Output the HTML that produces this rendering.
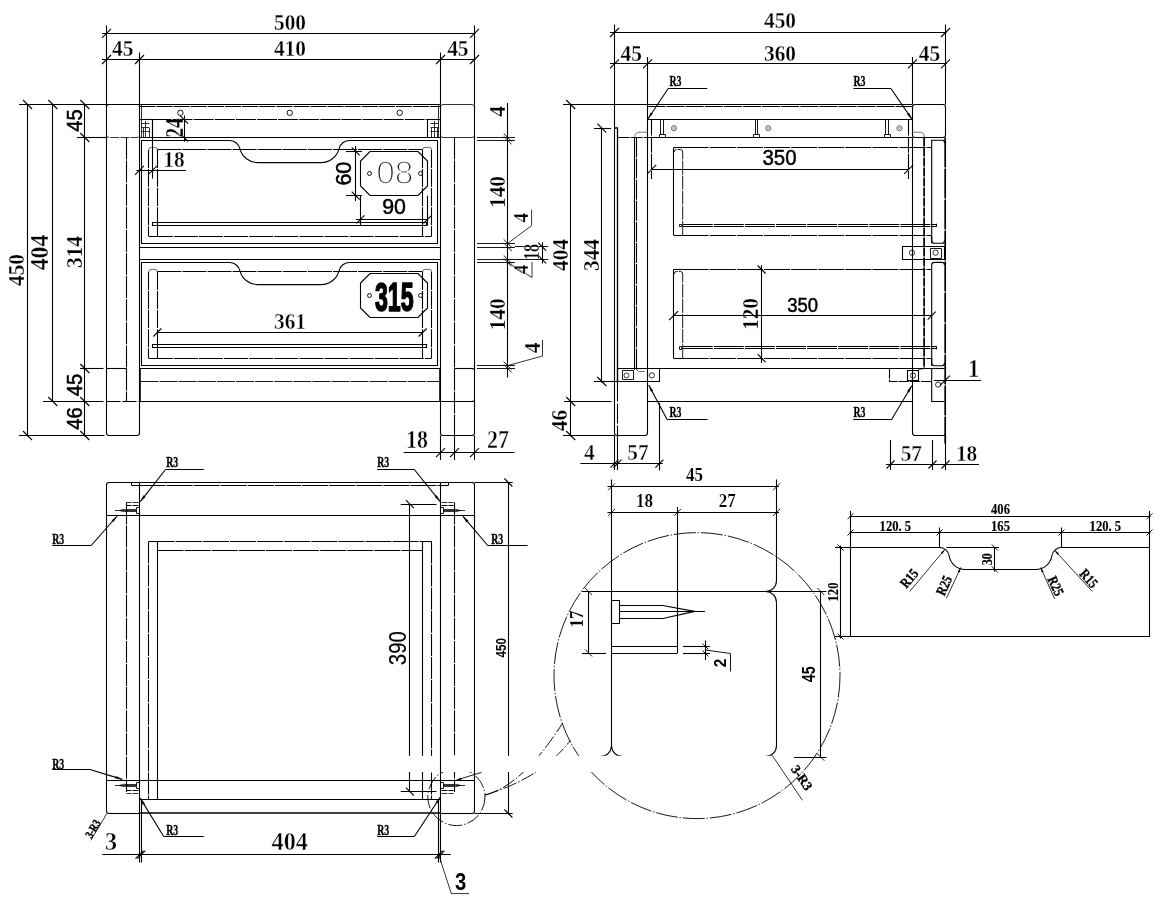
<!DOCTYPE html>
<html lang="en"><head><meta charset="utf-8"><title>Drawing</title>
<style>
html,body{margin:0;padding:0;background:#fff}
body{width:1173px;height:897px;overflow:hidden}
svg{display:block;will-change:transform}
line,path,circle{stroke:#000;stroke-width:1.1;fill:none}
text{font-family:"Liberation Serif",serif;fill:#000}
text.d{font-weight:bold;stroke:#fff;stroke-width:.3px}
text.r{font-weight:bold;stroke:#000;stroke-width:.35px}
text.b{font-weight:bold;stroke:#fff;stroke-width:.15px}
text.bb{font-weight:bold;stroke:#000;stroke-width:.15px}
text.s{font-family:"Liberation Sans",sans-serif}
text.k{font-family:"Liberation Sans",sans-serif;font-weight:bold;stroke:#000;stroke-width:1.6px;stroke-linejoin:round}
text.n{font-weight:bold;stroke:#fff;stroke-width:.45px}
text.o{font-family:"Liberation Sans",sans-serif;fill:#222;stroke:#fff;stroke-width:1.6px}
text.a{font-family:"Liberation Sans",sans-serif;stroke:#000;stroke-width:.5px}
text.ab{font-family:"Liberation Sans",sans-serif;font-weight:bold}
.ah{fill:#000;stroke:none}
</style></head>
<body>
<svg width="1173" height="897" viewBox="0 0 1173 897">
<rect x="0" y="0" width="1173" height="897" fill="#fff" stroke="none"/>
<line x1="102" y1="33.5" x2="475.5" y2="33.5"/>
<line x1="106.5" y1="25.5" x2="106.5" y2="104.5"/>
<line x1="474.5" y1="25.5" x2="474.5" y2="104.5"/>
<line x1="102" y1="37.9" x2="111" y2="28.9" style="stroke-width:1.1"/>
<line x1="470" y1="37.9" x2="479" y2="28.9" style="stroke-width:1.1"/>
<line x1="102" y1="59.5" x2="475.5" y2="59.5"/>
<line x1="102" y1="64" x2="111" y2="55" style="stroke-width:1.1"/>
<line x1="135" y1="64" x2="144" y2="55" style="stroke-width:1.1"/>
<line x1="436" y1="64" x2="445" y2="55" style="stroke-width:1.1"/>
<line x1="470" y1="64" x2="479" y2="55" style="stroke-width:1.1"/>
<line x1="139.5" y1="52.5" x2="139.5" y2="104.5"/>
<line x1="440.5" y1="52.5" x2="440.5" y2="104.5"/>
<text class="d" transform="translate(290 29.6) scale(0.89 1)" font-size="24" text-anchor="middle">500</text>
<text class="d" transform="translate(290 55.8) scale(0.89 1)" font-size="24" text-anchor="middle">410</text>
<text class="d" transform="translate(122.7 55.8) scale(0.89 1)" font-size="24" text-anchor="middle">45</text>
<text class="d" transform="translate(457.8 55.8) scale(0.89 1)" font-size="24" text-anchor="middle">45</text>
<line x1="19" y1="104.5" x2="139.5" y2="104.5"/>
<line x1="27.5" y1="104.5" x2="27.5" y2="436.5"/>
<line x1="52.5" y1="104.5" x2="52.5" y2="401.5"/>
<line x1="84.5" y1="104.5" x2="84.5" y2="436.5"/>
<line x1="23" y1="100" x2="32" y2="109" style="stroke-width:1.1"/>
<line x1="48.3" y1="100" x2="57.3" y2="109" style="stroke-width:1.1"/>
<line x1="80.3" y1="100" x2="89.3" y2="109" style="stroke-width:1.1"/>
<line x1="77" y1="137.5" x2="106.5" y2="137.5"/>
<line x1="80.3" y1="133" x2="89.3" y2="142" style="stroke-width:1.1"/>
<line x1="80" y1="368.5" x2="103.5" y2="368.5"/>
<line x1="80.3" y1="364" x2="89.3" y2="373" style="stroke-width:1.1"/>
<line x1="43" y1="401.5" x2="103.5" y2="401.5"/>
<line x1="48.3" y1="397" x2="57.3" y2="406" style="stroke-width:1.1"/>
<line x1="80.3" y1="397" x2="89.3" y2="406" style="stroke-width:1.1"/>
<line x1="19" y1="435.5" x2="104.5" y2="435.5"/>
<line x1="23" y1="431" x2="32" y2="440" style="stroke-width:1.1"/>
<line x1="80.3" y1="431" x2="89.3" y2="440" style="stroke-width:1.1"/>
<text class="d" transform="translate(23.5 270) rotate(-90) scale(0.89 1)" font-size="24" text-anchor="middle">450</text>
<text class="d" transform="translate(48.2 252.5) rotate(-90) scale(0.93 1)" font-size="25.5" text-anchor="middle">404</text>
<text class="d" transform="translate(81.5 252) rotate(-90) scale(0.89 1)" font-size="24" text-anchor="middle">314</text>
<text class="a" transform="translate(81.8 120.5) rotate(-90) scale(0.92 1)" font-size="22" text-anchor="middle">45</text>
<text class="a" transform="translate(81.8 385) rotate(-90) scale(0.92 1)" font-size="22" text-anchor="middle">45</text>
<text class="a" transform="translate(81.8 418.6) rotate(-90) scale(0.92 1)" font-size="22" text-anchor="middle">46</text>
<path d="M106.5,104.5 V433 Q106.5,435.5 109,435.5 H137 Q139.5,435.5 139.5,433 V104.5"/>
<path d="M440.5,104.5 V433 Q440.5,435.5 443,435.5 H472 Q474.5,435.5 474.5,433 V104.5"/>
<path d="M109,104.5 H137 Q139.5,104.5 139.5,107 V135 Q139.5,137.5 137,137.5 H109 Q106.5,137.5 106.5,135 V107 Q106.5,104.5 109,104.5 Z" stroke-dasharray="9 1.2" style="stroke-width:0.8"/>
<path d="M443,104.5 H472 Q474.5,104.5 474.5,107 V135 Q474.5,137.5 472,137.5 H443 Q440.5,137.5 440.5,135 V107 Q440.5,104.5 443,104.5 Z" style="stroke-width:0.8"/>
<line x1="126.5" y1="137.5" x2="126.5" y2="401.5" stroke-dasharray="22 1.1"/>
<line x1="454.5" y1="137.5" x2="454.5" y2="435.5" stroke-dasharray="22 1.1"/>
<line x1="106.5" y1="368.5" x2="126.5" y2="368.5"/>
<line x1="106.5" y1="401.5" x2="139.5" y2="401.5" stroke-dasharray="14 2"/>
<line x1="454.5" y1="368.5" x2="473.5" y2="368.5"/>
<line x1="440.5" y1="401.5" x2="473.5" y2="401.5"/>
<path d="M472,368.5 Q474.5,368.5 474.5,371" style="stroke-width:0.8"/>
<path d="M472,401.5 Q474.5,401.5 474.5,399" style="stroke-width:0.8"/>
<line x1="139.5" y1="104.5" x2="440.5" y2="104.5"/>
<line x1="139.5" y1="106.5" x2="440.5" y2="106.5" stroke-dasharray="16 1.1"/>
<line x1="151.5" y1="119.5" x2="428.5" y2="119.5" stroke-dasharray="20 1.1"/>
<line x1="139.5" y1="137.5" x2="440.5" y2="137.5"/>
<line x1="141.5" y1="104.5" x2="141.5" y2="137.5" style="stroke-width:0.8"/>
<line x1="438.5" y1="104.5" x2="438.5" y2="137.5" style="stroke-width:0.8"/>
<circle cx="180.4" cy="112.8" r="2.7" style="stroke-width:0.9"/>
<circle cx="289.8" cy="112.8" r="2.7" style="stroke-width:0.9"/>
<circle cx="399.7" cy="112.8" r="2.7" style="stroke-width:0.9"/>
<line x1="152.5" y1="119.6" x2="152.5" y2="137.5"/>
<line x1="139.5" y1="119.5" x2="152.3" y2="119.5"/>
<line x1="141" y1="123.5" x2="149.5" y2="123.5" style="stroke-width:0.8"/>
<line x1="141" y1="127.5" x2="149.5" y2="127.5" style="stroke-width:0.8"/>
<line x1="141" y1="131.5" x2="149.5" y2="131.5" style="stroke-width:0.8"/>
<line x1="145.5" y1="121" x2="145.5" y2="137.5" style="stroke-width:0.8"/>
<line x1="143.5" y1="128" x2="143.5" y2="137.5" style="stroke-width:0.8"/>
<line x1="149.5" y1="128" x2="149.5" y2="137.5" style="stroke-width:0.8"/>
<line x1="427.5" y1="119.6" x2="427.5" y2="137.5"/>
<line x1="440.5" y1="119.5" x2="427.7" y2="119.5"/>
<line x1="439" y1="123.5" x2="430.5" y2="123.5" style="stroke-width:0.8"/>
<line x1="439" y1="127.5" x2="430.5" y2="127.5" style="stroke-width:0.8"/>
<line x1="439" y1="131.5" x2="430.5" y2="131.5" style="stroke-width:0.8"/>
<line x1="434.5" y1="121" x2="434.5" y2="137.5" style="stroke-width:0.8"/>
<line x1="437.5" y1="128" x2="437.5" y2="137.5" style="stroke-width:0.8"/>
<line x1="431.5" y1="128" x2="431.5" y2="137.5" style="stroke-width:0.8"/>
<path d="M141.5,140.5 H229.3 A11,11 0 0 1 239.96,148.77 A18.4,18.4 0 0 0 257.78,162.6 H321.12 A18.4,18.4 0 0 0 338.94,148.77 A11,11 0 0 1 349.6,140.5 H437.5 V243.5 H141.5 Z"/>
<line x1="157.3" y1="149.5" x2="422.6" y2="149.5" stroke-dasharray="24 1.1"/>
<line x1="148.8" y1="236.5" x2="431.6" y2="236.5" stroke-dasharray="24 1.1"/>
<line x1="148.5" y1="149.9" x2="148.5" y2="236.3" stroke-dasharray="18 1.1"/>
<line x1="431.5" y1="149.9" x2="431.5" y2="236.3" stroke-dasharray="18 1.1"/>
<line x1="157.5" y1="149.9" x2="157.5" y2="236.3" stroke-dasharray="18 1.1"/>
<line x1="422.5" y1="149.9" x2="422.5" y2="236.3" stroke-dasharray="18 1.1"/>
<path d="M148.8,149.9 Q148.8,147.4 151,147.4 H155 Q157.3,147.4 157.3,149.9" style="stroke:#444;stroke-width:0.8"/>
<path d="M431.6,149.9 Q431.6,147.4 429.4,147.4 H425 Q422.6,147.4 422.6,149.9" style="stroke:#444;stroke-width:0.8"/>
<path d="M152.5,222.5 H426.5 V225.5 H152.5 Z"/>
<path d="M141.5,262.5 H229.3 A11,11 0 0 1 239.96,270.77 A18.4,18.4 0 0 0 257.78,284.6 H321.12 A18.4,18.4 0 0 0 338.94,270.77 A11,11 0 0 1 349.6,262.5 H437.5 V365.5 H141.5 Z"/>
<line x1="157.3" y1="271.5" x2="422.6" y2="271.5" stroke-dasharray="24 1.1"/>
<line x1="148.8" y1="358.5" x2="431.6" y2="358.5" stroke-dasharray="24 1.1"/>
<line x1="148.5" y1="271.9" x2="148.5" y2="358.3" stroke-dasharray="18 1.1"/>
<line x1="431.5" y1="271.9" x2="431.5" y2="358.3" stroke-dasharray="18 1.1"/>
<line x1="157.5" y1="271.9" x2="157.5" y2="358.3" stroke-dasharray="18 1.1"/>
<line x1="422.5" y1="271.9" x2="422.5" y2="358.3" stroke-dasharray="18 1.1"/>
<path d="M148.8,271.9 Q148.8,269.4 151,269.4 H155 Q157.3,269.4 157.3,271.9" style="stroke:#444;stroke-width:0.8"/>
<path d="M431.6,271.9 Q431.6,269.4 429.4,269.4 H425 Q422.6,269.4 422.6,271.9" style="stroke:#444;stroke-width:0.8"/>
<path d="M152.5,344.5 H426.5 V347.5 H152.5 Z"/>
<line x1="139.5" y1="247.5" x2="440.5" y2="247.5"/>
<line x1="139.5" y1="259.5" x2="440.5" y2="259.5"/>
<line x1="139.5" y1="368.5" x2="440.5" y2="368.5"/>
<line x1="140.5" y1="381.5" x2="439.5" y2="381.5" stroke-dasharray="18 1.1" style="stroke-width:0.9"/>
<line x1="139.5" y1="401.5" x2="440.5" y2="401.5"/>
<line x1="140" y1="368.5" x2="140" y2="401.5" style="stroke-width:1.6"/>
<line x1="440" y1="368.5" x2="440" y2="401.5" style="stroke-width:1.6"/>
<line x1="184.5" y1="115.5" x2="184.5" y2="141.6"/>
<line x1="180.1" y1="115.6" x2="188.1" y2="123.6" style="stroke-width:1.1"/>
<line x1="180.1" y1="133.5" x2="188.1" y2="141.5" style="stroke-width:1.1"/>
<text class="d" transform="translate(183.2 128) rotate(-90) scale(0.74 1)" font-size="26" text-anchor="middle">24</text>
<line x1="136.4" y1="170.5" x2="186" y2="170.5"/>
<line x1="135" y1="174.8" x2="144" y2="165.8" style="stroke-width:1.1"/>
<line x1="148" y1="174.8" x2="157" y2="165.8" style="stroke-width:1.1"/>
<line x1="152.5" y1="119.6" x2="152.5" y2="178.5"/>
<text class="n" transform="translate(174 166.9) scale(0.89 1)" font-size="24" text-anchor="middle">18</text>
<path d="M370,151.5 H418 L427.5,161 V186 L418,195.5 H370 L360.5,186 V161 Z"/>
<circle cx="369.5" cy="173.5" r="2" style="stroke-width:0.9"/>
<circle cx="420.5" cy="173.5" r="2" style="stroke-width:0.9"/>
<path d="M370,273.5 H418 L427.5,283 V308 L418,317.5 H370 L360.5,308 V283 Z"/>
<circle cx="369.5" cy="295.5" r="2" style="stroke-width:0.9"/>
<circle cx="420.5" cy="295.5" r="2" style="stroke-width:0.9"/>
<text class="o" x="394.8" y="184.4" font-size="33.5" text-anchor="middle">08</text>
<text class="k" transform="translate(394.3 311) scale(0.58 1)" font-size="40" text-anchor="middle">315</text>
<line x1="355.5" y1="146" x2="355.5" y2="201"/>
<line x1="346" y1="151.5" x2="362" y2="151.5"/>
<line x1="346" y1="195.5" x2="362" y2="195.5"/>
<line x1="351.7" y1="147.4" x2="359.7" y2="155.4" style="stroke-width:1.1"/>
<line x1="351.7" y1="191.7" x2="359.7" y2="199.7" style="stroke-width:1.1"/>
<text class="a" transform="translate(351 173.7) rotate(-90) scale(0.97 1)" font-size="22" text-anchor="middle">60</text>
<line x1="356" y1="219.5" x2="428" y2="219.5"/>
<line x1="360.5" y1="195.7" x2="360.5" y2="225.5"/>
<line x1="427.5" y1="195.7" x2="427.5" y2="225.5"/>
<line x1="356.5" y1="223.3" x2="364.5" y2="215.3" style="stroke-width:1.1"/>
<line x1="423.5" y1="223.3" x2="431.5" y2="215.3" style="stroke-width:1.1"/>
<text class="a" transform="translate(394.1 213.9) scale(0.97 1)" font-size="22" text-anchor="middle">90</text>
<line x1="157.3" y1="332.5" x2="422.6" y2="332.5"/>
<line x1="153.3" y1="336.5" x2="161.3" y2="328.5" style="stroke-width:1.1"/>
<line x1="418.6" y1="336.5" x2="426.6" y2="328.5" style="stroke-width:1.1"/>
<text class="n" transform="translate(290 329) scale(0.89 1)" font-size="24" text-anchor="middle">361</text>
<line x1="507.5" y1="103" x2="507.5" y2="377.5"/>
<line x1="477" y1="137.5" x2="515" y2="137.5" style="stroke-width:0.9"/>
<line x1="477" y1="140.5" x2="515" y2="140.5" style="stroke-width:0.9"/>
<line x1="477" y1="243.5" x2="515" y2="243.5" style="stroke-width:0.9"/>
<line x1="477" y1="247.5" x2="515" y2="247.5" style="stroke-width:0.9"/>
<line x1="477" y1="259.5" x2="515" y2="259.5" style="stroke-width:0.9"/>
<line x1="477" y1="262.5" x2="515" y2="262.5" style="stroke-width:0.9"/>
<line x1="477" y1="365.5" x2="515" y2="365.5" style="stroke-width:0.9"/>
<line x1="477" y1="368.5" x2="515" y2="368.5" style="stroke-width:0.9"/>
<line x1="503.7" y1="133.5" x2="511.7" y2="141.5" style="stroke-width:0.9"/>
<line x1="503.7" y1="136.4" x2="511.7" y2="144.4" style="stroke-width:0.9"/>
<line x1="503.7" y1="239.4" x2="511.7" y2="247.4" style="stroke-width:0.9"/>
<line x1="503.7" y1="243" x2="511.7" y2="251" style="stroke-width:0.9"/>
<line x1="503.7" y1="255.4" x2="511.7" y2="263.4" style="stroke-width:0.9"/>
<line x1="503.7" y1="258.4" x2="511.7" y2="266.4" style="stroke-width:0.9"/>
<line x1="503.7" y1="361.6" x2="511.7" y2="369.6" style="stroke-width:0.9"/>
<line x1="503.7" y1="364.5" x2="511.7" y2="372.5" style="stroke-width:0.9"/>
<text class="d" transform="translate(504.5 111.5) rotate(-90) scale(0.89 1)" font-size="24" text-anchor="middle">4</text>
<text class="d" transform="translate(504.5 192) rotate(-90) scale(0.89 1)" font-size="24" text-anchor="middle">140</text>
<text class="d" transform="translate(504.5 314.3) rotate(-90) scale(0.89 1)" font-size="24" text-anchor="middle">140</text>
<path d="M507.7,243.4 L531.6,225.6 V209.5" style="stroke-width:0.8"/>
<text class="d" transform="translate(527.7 217.7) rotate(-90) scale(0.89 1)" font-size="21.5" text-anchor="middle">4</text>
<path d="M507.7,262.4 L532,277.5 V262" style="stroke-width:0.8"/>
<text class="d" transform="translate(527.7 269.5) rotate(-90) scale(0.89 1)" font-size="21.5" text-anchor="middle">4</text>
<path d="M507.7,365.6 L542.5,356 V340" style="stroke-width:0.8"/>
<text class="d" transform="translate(540 348) rotate(-90) scale(0.89 1)" font-size="24" text-anchor="middle">4</text>
<line x1="542.5" y1="242.3" x2="542.5" y2="263.5"/>
<line x1="515" y1="246.5" x2="548.3" y2="246.5" style="stroke-width:0.9"/>
<line x1="515" y1="259.5" x2="548.3" y2="259.5" style="stroke-width:0.9"/>
<line x1="538.1" y1="242.6" x2="546.1" y2="250.6" style="stroke-width:1.1"/>
<line x1="538.1" y1="255.4" x2="546.1" y2="263.4" style="stroke-width:1.1"/>
<text class="d" transform="translate(538.6 252) rotate(-90) scale(0.72 1)" font-size="22.5" text-anchor="middle">18</text>
<line x1="403.5" y1="452.5" x2="514.5" y2="452.5"/>
<line x1="440.5" y1="435.5" x2="440.5" y2="460"/>
<line x1="454.5" y1="435.5" x2="454.5" y2="460"/>
<line x1="474.5" y1="435.5" x2="474.5" y2="460"/>
<line x1="436" y1="457.1" x2="445" y2="448.1" style="stroke-width:1.1"/>
<line x1="450" y1="457.1" x2="459" y2="448.1" style="stroke-width:1.1"/>
<line x1="470" y1="457.1" x2="479" y2="448.1" style="stroke-width:1.1"/>
<text class="n" transform="translate(417 448.2) scale(0.86 1)" font-size="25.5" text-anchor="middle">18</text>
<text class="n" transform="translate(498 448.2) scale(0.86 1)" font-size="25.5" text-anchor="middle">27</text>
<line x1="610" y1="32.5" x2="946.5" y2="32.5"/>
<line x1="614.5" y1="24.5" x2="614.5" y2="104.5"/>
<line x1="945.5" y1="24.5" x2="945.5" y2="104.5"/>
<line x1="610" y1="37" x2="619" y2="28" style="stroke-width:1.1"/>
<line x1="941" y1="37" x2="950" y2="28" style="stroke-width:1.1"/>
<line x1="610" y1="63.5" x2="946.5" y2="63.5"/>
<line x1="647.5" y1="57" x2="647.5" y2="104.5"/>
<line x1="912.5" y1="57" x2="912.5" y2="104.5"/>
<line x1="610" y1="68.4" x2="619" y2="59.4" style="stroke-width:1.1"/>
<line x1="643" y1="68.4" x2="652" y2="59.4" style="stroke-width:1.1"/>
<line x1="908" y1="68.4" x2="917" y2="59.4" style="stroke-width:1.1"/>
<line x1="941" y1="68.4" x2="950" y2="59.4" style="stroke-width:1.1"/>
<text class="d" transform="translate(780 28.2) scale(0.89 1)" font-size="24" text-anchor="middle">450</text>
<text class="d" transform="translate(780 61) scale(0.89 1)" font-size="24" text-anchor="middle">360</text>
<text class="d" transform="translate(631.2 61) scale(0.89 1)" font-size="24" text-anchor="middle">45</text>
<text class="d" transform="translate(929.5 61) scale(0.89 1)" font-size="24" text-anchor="middle">45</text>
<line x1="563" y1="104.5" x2="614.5" y2="104.5"/>
<line x1="570.5" y1="104.5" x2="570.5" y2="436.5"/>
<line x1="566.2" y1="100" x2="575.2" y2="109" style="stroke-width:1.1"/>
<line x1="594" y1="128.5" x2="611" y2="128.5"/>
<line x1="601.5" y1="128.2" x2="601.5" y2="382.5"/>
<line x1="597.3" y1="123.7" x2="606.3" y2="132.7" style="stroke-width:1.1"/>
<line x1="594" y1="381.5" x2="614.5" y2="381.5"/>
<line x1="597.3" y1="377" x2="606.3" y2="386" style="stroke-width:1.1"/>
<line x1="564" y1="401.5" x2="611.5" y2="401.5"/>
<line x1="566.2" y1="397" x2="575.2" y2="406" style="stroke-width:1.1"/>
<line x1="563" y1="435.5" x2="614.5" y2="435.5"/>
<line x1="566.2" y1="431" x2="575.2" y2="440" style="stroke-width:1.1"/>
<text class="d" transform="translate(567.5 255) rotate(-90) scale(0.89 1)" font-size="24" text-anchor="middle">404</text>
<text class="d" transform="translate(598.6 255) rotate(-90) scale(0.89 1)" font-size="24" text-anchor="middle">344</text>
<text class="d" transform="translate(566.6 420.5) rotate(-90) scale(0.89 1)" font-size="24" text-anchor="middle">46</text>
<line x1="614.5" y1="104.5" x2="912.5" y2="104.5"/>
<line x1="647.5" y1="106.5" x2="912.5" y2="106.5" stroke-dasharray="18 1.1"/>
<line x1="647.5" y1="119.5" x2="912.5" y2="119.5"/>
<line x1="617.5" y1="137.5" x2="647.5" y2="137.5" stroke-dasharray="12 1.1"/>
<line x1="647.5" y1="137.5" x2="912.5" y2="137.5"/>
<path d="M614.5,104.5 V433 Q614.5,435.5 617,435.5 H645 Q647.5,435.5 647.5,433 V104.5"/>
<path d="M614.5,128 H617.5 V381.5" style="stroke-width:1.3"/>
<line x1="617.5" y1="381.5" x2="617.5" y2="435.5" stroke-dasharray="20 2"/>
<line x1="634.5" y1="137.5" x2="634.5" y2="370"/>
<line x1="636.5" y1="137.5" x2="636.5" y2="370" stroke-dasharray="20 1.1"/>
<path d="M634.6,137.5 Q634.6,132.2 640,132.2 H647.5" style="stroke:#555;stroke-width:0.8"/>
<path d="M636.8,368.5 Q636.8,371.5 639.5,371.5 H645" style="stroke:#555;stroke-width:0.8"/>
<line x1="651.5" y1="119.6" x2="651.5" y2="179" stroke-dasharray="16 1.1"/>
<line x1="908.5" y1="119.6" x2="908.5" y2="179" stroke-dasharray="16 1.1"/>
<line x1="651.7" y1="169.5" x2="908.7" y2="169.5"/>
<line x1="647.2" y1="173.9" x2="656.2" y2="164.9" style="stroke-width:1.1"/>
<line x1="904.2" y1="173.9" x2="913.2" y2="164.9" style="stroke-width:1.1"/>
<text class="a" transform="translate(779.5 165.1) scale(0.95 1)" font-size="21.5" text-anchor="middle">350</text>
<line x1="660.5" y1="119.6" x2="660.5" y2="134.6" style="stroke-width:0.9"/>
<line x1="663.5" y1="119.6" x2="663.5" y2="134.6" style="stroke-width:0.9"/>
<path d="M659.5,134.5 H665.5 V137.5 H659.5 Z" style="stroke-width:0.9"/>
<line x1="755.5" y1="119.6" x2="755.5" y2="134.6" style="stroke-width:0.9"/>
<line x1="757.5" y1="119.6" x2="757.5" y2="134.6" style="stroke-width:0.9"/>
<path d="M753.5,134.5 H759.5 V137.5 H753.5 Z" style="stroke-width:0.9"/>
<line x1="885.5" y1="119.6" x2="885.5" y2="134.6" style="stroke-width:0.9"/>
<line x1="888.5" y1="119.6" x2="888.5" y2="134.6" style="stroke-width:0.9"/>
<path d="M884.5,134.5 H890.5 V137.5 H884.5 Z" style="stroke-width:0.9"/>
<circle cx="674" cy="128.2" r="2.6" style="stroke:#444;stroke-width:0.8"/>
<circle cx="674" cy="128.2" r="1.1" style="stroke:#666;stroke-width:0.7"/>
<circle cx="768.2" cy="128.2" r="2.6" style="stroke:#444;stroke-width:0.8"/>
<circle cx="768.2" cy="128.2" r="1.1" style="stroke:#666;stroke-width:0.7"/>
<circle cx="899.4" cy="128.2" r="2.6" style="stroke:#444;stroke-width:0.8"/>
<circle cx="899.4" cy="128.2" r="1.1" style="stroke:#666;stroke-width:0.7"/>
<path d="M915,104.5 H943 Q945.5,104.5 945.5,107 V135 Q945.5,137.5 943,137.5 H915 Q912.5,137.5 912.5,135 V107 Q912.5,104.5 915,104.5 Z"/>
<line x1="912.5" y1="137.5" x2="912.5" y2="433"/>
<path d="M912.5,433 Q912.5,435.5 915,435.5 H943 Q945.5,435.5 945.5,433"/>
<line x1="945.2" y1="137.5" x2="945.2" y2="443.5" stroke-dasharray="30 1" style="stroke-width:1.7"/>
<line x1="924.1" y1="137.5" x2="924.1" y2="368.5" stroke-dasharray="9 1" style="stroke-width:1.7"/>
<path d="M912.5,132.2 H920.5 Q924.4,132.2 924.4,137.5" style="stroke:#555;stroke-width:0.8"/>
<path d="M924.4,365.5 Q924.4,369.5 921,369.5 H918" style="stroke:#555;stroke-width:0.8"/>
<path d="M931.7,243.3 V140.2 H942.5 Q944.5,140.2 944.5,143"/>
<path d="M931.7,236 V240.5 Q931.7,243.3 934.5,243.3 H942 Q944.5,243.3 944.5,240.5"/>
<path d="M931.7,365.7 V265 Q931.7,262.4 934.5,262.4 H942 Q944.5,262.4 944.5,265"/>
<path d="M931.7,358 V363 Q931.7,365.7 934.5,365.7 H942 Q944.5,365.7 944.5,363"/>
<path d="M931.7,368.5 V401.5 H944.5"/>
<line x1="931.7" y1="368.5" x2="944.5" y2="368.5"/>
<line x1="673.5" y1="147.5" x2="673.5" y2="235"/>
<line x1="673.6" y1="147.5" x2="682.7" y2="147.5"/>
<line x1="682.7" y1="147.5" x2="931.7" y2="147.5" stroke-dasharray="26 1.1"/>
<line x1="673.6" y1="235.5" x2="682.7" y2="235.5"/>
<line x1="682.7" y1="235.5" x2="931.7" y2="235.5" stroke-dasharray="26 1.1"/>
<path d="M682.7,235 V152 Q682.7,149.5 680.5,149.5 H676.5 Q674.2,149.5 674.2,152" stroke-dasharray="14 1.1" style="stroke-width:0.9"/>
<path d="M679.5,224.5 H681.5 V226.5 H679.5 Z" style="stroke-width:0.9"/>
<line x1="682.7" y1="224.5" x2="936.5" y2="224.5" stroke-dasharray="30 1.1"/>
<line x1="682.7" y1="226.5" x2="936.5" y2="226.5" stroke-dasharray="30 1.1"/>
<line x1="936.5" y1="223.7" x2="936.5" y2="226.7"/>
<line x1="673.5" y1="269.5" x2="673.5" y2="358.2"/>
<line x1="673.6" y1="269.5" x2="682.7" y2="269.5"/>
<line x1="682.7" y1="269.5" x2="931.7" y2="269.5" stroke-dasharray="26 1.1"/>
<line x1="673.6" y1="358.5" x2="682.7" y2="358.5"/>
<line x1="682.7" y1="358.5" x2="931.7" y2="358.5" stroke-dasharray="26 1.1"/>
<path d="M682.7,358.2 V274 Q682.7,271.5 680.5,271.5 H676.5 Q674.2,271.5 674.2,274" stroke-dasharray="14 1.1" style="stroke-width:0.9"/>
<path d="M679.5,346.5 H681.5 V349.5 H679.5 Z" style="stroke-width:0.9"/>
<line x1="682.7" y1="346.5" x2="936.5" y2="346.5" stroke-dasharray="30 1.1"/>
<line x1="682.7" y1="348.5" x2="936.5" y2="348.5" stroke-dasharray="30 1.1"/>
<line x1="936.5" y1="346.3" x2="936.5" y2="349.3"/>
<path d="M902.5,246.5 H944.5 V259.5 H902.5 Z"/>
<path d="M930.5,248.5 H941.5 V258.5 H930.5 Z" style="stroke-width:0.9"/>
<circle cx="912" cy="252.7" r="2.6" style="stroke-width:0.8"/>
<circle cx="935.6" cy="252.7" r="2.6" style="stroke-width:0.8"/>
<line x1="761.5" y1="265" x2="761.5" y2="363"/>
<line x1="757.6" y1="265.5" x2="765.6" y2="273.5" style="stroke-width:1.1"/>
<line x1="757.6" y1="354.2" x2="765.6" y2="362.2" style="stroke-width:1.1"/>
<text class="d" transform="translate(758.2 314) rotate(-90) scale(0.89 1)" font-size="24" text-anchor="middle">120</text>
<line x1="673.6" y1="315.5" x2="931.7" y2="315.5"/>
<line x1="669.1" y1="320.1" x2="678.1" y2="311.1" style="stroke-width:1.1"/>
<line x1="927.7" y1="319.6" x2="935.7" y2="311.6" style="stroke-width:1.1"/>
<text class="a" transform="translate(802.7 311.6) scale(0.88 1)" font-size="21" text-anchor="middle">350</text>
<line x1="617.5" y1="368.5" x2="931.7" y2="368.5"/>
<line x1="647.5" y1="401.5" x2="912.5" y2="401.5"/>
<path d="M617.5,368.5 H659.5 V381.5 H617.5 Z"/>
<path d="M622.5,370.5 H633.5 V379.5 H622.5 Z" style="stroke-width:0.9"/>
<circle cx="626.5" cy="375.4" r="2.5" style="stroke-width:0.8"/>
<circle cx="651.8" cy="375.4" r="2.6" style="stroke-width:0.8"/>
<line x1="614.5" y1="381.5" x2="617.5" y2="381.5"/>
<path d="M889.5,368.5 V381.5 H931.7" stroke-dasharray="10 1.1"/>
<path d="M907.5,370.5 H918.5 V380.5 H907.5 Z"/>
<circle cx="913" cy="375.6" r="2.6" style="stroke-width:0.8"/>
<circle cx="938.1" cy="384.6" r="2.6" style="stroke-width:0.8"/>
<line x1="668.2" y1="88.5" x2="707.3" y2="88.5"/>
<line x1="668.2" y1="88.5" x2="647.9" y2="119"/>
<polygon class="ah" points="647.9,119 650.67,112.44 652.84,113.87"/>
<text class="r" transform="translate(669.5 86.2) scale(0.7 1)" font-size="14" text-anchor="start">R3</text>
<line x1="853.4" y1="88.5" x2="890.9" y2="88.5"/>
<line x1="890.9" y1="88.5" x2="912.1" y2="119.4"/>
<polygon class="ah" points="912.1,119.4 907.09,114.34 909.24,112.88"/>
<text class="r" transform="translate(853.5 86.2) scale(0.7 1)" font-size="14" text-anchor="start">R3</text>
<line x1="667.1" y1="419.5" x2="707.5" y2="419.5"/>
<line x1="667.1" y1="419.5" x2="648.7" y2="385"/>
<polygon class="ah" points="648.7,385 653.15,390.55 650.86,391.78"/>
<text class="r" transform="translate(669.5 417.2) scale(0.7 1)" font-size="14" text-anchor="start">R3</text>
<line x1="853.2" y1="419.5" x2="891.6" y2="419.5"/>
<line x1="891.6" y1="419.5" x2="911.8" y2="385.8"/>
<polygon class="ah" points="911.8,385.8 909.3,392.47 907.07,391.12"/>
<text class="r" transform="translate(853.5 417.2) scale(0.7 1)" font-size="14" text-anchor="start">R3</text>
<line x1="934" y1="380.5" x2="981" y2="380.5"/>
<line x1="939.8" y1="385.7" x2="949.8" y2="375.7" style="stroke-width:1.1"/>
<text class="n" transform="translate(973.7 376.7) scale(0.89 1)" font-size="25.5" text-anchor="middle">1</text>
<line x1="580.4" y1="463.5" x2="662.8" y2="463.5"/>
<line x1="614.5" y1="435.5" x2="614.5" y2="470"/>
<line x1="617.5" y1="435.5" x2="617.5" y2="470"/>
<line x1="659.5" y1="403" x2="659.5" y2="470.5"/>
<line x1="610.5" y1="467.6" x2="618.5" y2="459.6" style="stroke-width:1.1"/>
<line x1="613.5" y1="467.6" x2="621.5" y2="459.6" style="stroke-width:1.1"/>
<line x1="655.4" y1="467.6" x2="663.4" y2="459.6" style="stroke-width:1.1"/>
<text class="n" transform="translate(589.3 460.4) scale(0.89 1)" font-size="24" text-anchor="middle">4</text>
<text class="n" transform="translate(638 460.4) scale(0.89 1)" font-size="24" text-anchor="middle">57</text>
<line x1="886" y1="464.5" x2="979" y2="464.5"/>
<line x1="890.5" y1="440" x2="890.5" y2="470"/>
<line x1="932.5" y1="440" x2="932.5" y2="470"/>
<line x1="945.5" y1="435.5" x2="945.5" y2="470"/>
<line x1="886.5" y1="468.5" x2="894.5" y2="460.5" style="stroke-width:1.1"/>
<line x1="928.5" y1="468.5" x2="936.5" y2="460.5" style="stroke-width:1.1"/>
<line x1="941.5" y1="468.5" x2="949.5" y2="460.5" style="stroke-width:1.1"/>
<text class="n" transform="translate(911.3 461.4) scale(0.89 1)" font-size="24" text-anchor="middle">57</text>
<text class="n" transform="translate(966.6 461.4) scale(0.89 1)" font-size="24" text-anchor="middle">18</text>
<line x1="409.5" y1="504.2" x2="409.5" y2="791.7"/>
<line x1="400.7" y1="504.5" x2="436.5" y2="504.5"/>
<line x1="400.7" y1="791.5" x2="436.5" y2="791.5"/>
<line x1="405.9" y1="500.2" x2="413.9" y2="508.2" style="stroke-width:1.1"/>
<line x1="405.9" y1="787.7" x2="413.9" y2="795.7" style="stroke-width:1.1"/>
<text class="a" transform="translate(405.8 648.2) rotate(-90) scale(0.86 1)" font-size="23.7" text-anchor="middle" style="stroke:#000;stroke-width:0.2px">390</text>
<line x1="508.5" y1="482.5" x2="508.5" y2="814.5"/>
<line x1="504.4" y1="478.5" x2="512.4" y2="486.5" style="stroke-width:1.1"/>
<line x1="504.4" y1="809.5" x2="512.4" y2="817.5" style="stroke-width:1.1"/>
<line x1="474.5" y1="482.5" x2="512.7" y2="482.5"/>
<line x1="474.5" y1="813.5" x2="512.7" y2="813.5"/>
<text class="ab" transform="translate(506.2 647.7) rotate(-90) scale(0.82 1)" font-size="14.2" text-anchor="middle">450</text>
<line x1="148.5" y1="541.5" x2="148.5" y2="799.5" stroke-dasharray="22 1.1"/>
<line x1="157.5" y1="541.5" x2="157.5" y2="799.5"/>
<line x1="422.5" y1="541.5" x2="422.5" y2="799.5"/>
<line x1="431.5" y1="541.5" x2="431.5" y2="799.5" stroke-dasharray="22 1.1"/>
<line x1="148.7" y1="541.5" x2="431.6" y2="541.5" stroke-dasharray="26 1.1"/>
<line x1="157.6" y1="550.5" x2="422.5" y2="550.5" stroke-dasharray="26 1.1"/>
<line x1="126.5" y1="502.3" x2="126.5" y2="792" stroke-dasharray="22 1.1"/>
<line x1="454.5" y1="502.3" x2="454.5" y2="792" stroke-dasharray="22 1.1"/>
<circle cx="456.4" cy="797" r="28.6" stroke-dasharray="14 2 1.5 2" style="stroke-width:0.9"/>
<path d="M485,795.1 Q522.9,785.1 562.1,723.9" stroke-dasharray="14 2 1.5 2" style="stroke-width:0.9"/>
<path d="M485,795.1 Q543.4,777 570.3,740.2" stroke-dasharray="14 2 1.5 2" style="stroke-width:0.9"/>
<circle cx="697" cy="675.6" r="143" stroke-dasharray="22 1.8 1.5 1.8" style="stroke-width:0.9"/>
<line x1="611.5" y1="479.6" x2="611.5" y2="745.6"/>
<path d="M611.5,745.6 A11,11 0 0 1 600.5,756.6"/>
<path d="M611.5,745.6 A11,11 0 0 0 622.5,756.6"/>
<path d="M776.5,602.4 V745.6 A11,11 0 0 1 765.5,756.6"/>
<rect x="398" y="755.8" width="395" height="16.2" fill="#fff" stroke="none"/>
<line x1="106.5" y1="484.5" x2="106.5" y2="811.5"/>
<line x1="474.5" y1="484.5" x2="474.5" y2="811.5"/>
<path d="M106.5,485 Q106.5,482.5 109,482.5"/>
<path d="M474.5,485 Q474.5,482.5 472,482.5"/>
<path d="M106.5,811 Q106.5,813.5 109,813.5"/>
<path d="M474.5,811 Q474.5,813.5 472,813.5"/>
<line x1="109" y1="482.5" x2="472" y2="482.5"/>
<line x1="106.5" y1="515.5" x2="474.5" y2="515.5"/>
<line x1="106.5" y1="780.5" x2="474.5" y2="780.5"/>
<line x1="109" y1="813.5" x2="139.5" y2="813.5"/>
<line x1="440.5" y1="813.5" x2="472" y2="813.5"/>
<line x1="139.5" y1="813" x2="440.5" y2="813" style="stroke-width:1.6"/>
<line x1="140.5" y1="799.5" x2="440.5" y2="799.5"/>
<line x1="131.7" y1="485.5" x2="139.5" y2="485.5"/>
<line x1="139.5" y1="485.5" x2="440.5" y2="485.5" stroke-dasharray="26 1.1"/>
<line x1="440.5" y1="485.5" x2="448.3" y2="485.5"/>
<line x1="131.5" y1="482.5" x2="131.5" y2="485.5"/>
<line x1="448.5" y1="482.5" x2="448.5" y2="485.5"/>
<line x1="139.5" y1="482.5" x2="139.5" y2="862.5"/>
<line x1="141.5" y1="799" x2="141.5" y2="862.5"/>
<line x1="440.5" y1="482.5" x2="440.5" y2="862.5"/>
<line x1="438.5" y1="799" x2="438.5" y2="862.5"/>
<path d="M136.5,507.5 H139.5 V513.5 H136.5 Z" style="stroke-width:0.9"/>
<line x1="136.2" y1="509.5" x2="124.5" y2="509.5" style="stroke-width:0.8"/>
<line x1="136.2" y1="511.5" x2="124.5" y2="511.5" style="stroke-width:0.8"/>
<path d="M124.5,509.2 L119.5,510.5 L124.5,511.8" style="stroke-width:0.8"/>
<line x1="136.2" y1="510.5" x2="115" y2="510.5" style="stroke-width:0.8"/>
<line x1="138.5" y1="505.5" x2="126.5" y2="505.5" stroke-dasharray="6 1" style="stroke-width:1.2"/>
<line x1="138.5" y1="502.5" x2="126.5" y2="502.5" stroke-dasharray="6 1" style="stroke-width:0.8"/>
<path d="M440.5,507.5 H443.5 V513.5 H440.5 Z" style="stroke-width:0.9"/>
<line x1="443.8" y1="509.5" x2="455.5" y2="509.5" style="stroke-width:0.8"/>
<line x1="443.8" y1="511.5" x2="455.5" y2="511.5" style="stroke-width:0.8"/>
<path d="M455.5,509.2 L460.5,510.5 L455.5,511.8" style="stroke-width:0.8"/>
<line x1="443.8" y1="510.5" x2="465" y2="510.5" style="stroke-width:0.8"/>
<line x1="441.5" y1="505.5" x2="453.5" y2="505.5" stroke-dasharray="6 1" style="stroke-width:1.2"/>
<line x1="441.5" y1="502.5" x2="453.5" y2="502.5" stroke-dasharray="6 1" style="stroke-width:0.8"/>
<path d="M136.5,782.5 H139.5 V788.5 H136.5 Z" style="stroke-width:0.9"/>
<line x1="136.2" y1="784.5" x2="124.5" y2="784.5" style="stroke-width:0.8"/>
<line x1="136.2" y1="786.5" x2="124.5" y2="786.5" style="stroke-width:0.8"/>
<path d="M124.5,784.1 L119.5,785.4 L124.5,786.7" style="stroke-width:0.8"/>
<line x1="136.2" y1="785.5" x2="115" y2="785.5" style="stroke-width:0.8"/>
<line x1="138.5" y1="790.5" x2="126.5" y2="790.5" stroke-dasharray="6 1" style="stroke-width:1.2"/>
<line x1="138.5" y1="793.5" x2="126.5" y2="793.5" stroke-dasharray="6 1" style="stroke-width:0.8"/>
<path d="M440.5,782.5 H443.5 V788.5 H440.5 Z" style="stroke-width:0.9"/>
<line x1="443.8" y1="784.5" x2="455.5" y2="784.5" style="stroke-width:0.8"/>
<line x1="443.8" y1="786.5" x2="455.5" y2="786.5" style="stroke-width:0.8"/>
<path d="M455.5,784.1 L460.5,785.4 L455.5,786.7" style="stroke-width:0.8"/>
<line x1="443.8" y1="785.5" x2="465" y2="785.5" style="stroke-width:0.8"/>
<line x1="441.5" y1="790.5" x2="453.5" y2="790.5" stroke-dasharray="6 1" style="stroke-width:1.2"/>
<line x1="441.5" y1="793.5" x2="453.5" y2="793.5" stroke-dasharray="6 1" style="stroke-width:0.8"/>
<line x1="165.5" y1="469.5" x2="203.8" y2="469.5"/>
<line x1="165.5" y1="469.5" x2="140.3" y2="501.6"/>
<polygon class="ah" points="140.3,501.6 143.61,495.3 145.65,496.9"/>
<text class="r" transform="translate(166.3 467.2) scale(0.7 1)" font-size="14" text-anchor="start">R3</text>
<line x1="52.3" y1="545.5" x2="91.2" y2="545.5"/>
<line x1="91.2" y1="545.5" x2="117.1" y2="516"/>
<polygon class="ah" points="117.1,516 113.46,522.12 111.5,520.4"/>
<text class="r" transform="translate(52.3 544.2) scale(0.7 1)" font-size="14" text-anchor="start">R3</text>
<line x1="377.2" y1="469.5" x2="414.3" y2="469.5"/>
<line x1="414.3" y1="469.5" x2="440.2" y2="501.6"/>
<polygon class="ah" points="440.2,501.6 434.79,496.98 436.81,495.34"/>
<text class="r" transform="translate(377.3 467.2) scale(0.7 1)" font-size="14" text-anchor="start">R3</text>
<line x1="487.7" y1="545.5" x2="527.6" y2="545.5"/>
<line x1="487.7" y1="545.5" x2="462.9" y2="516.2"/>
<polygon class="ah" points="462.9,516.2 468.41,520.7 466.43,522.38"/>
<text class="r" transform="translate(491.2 544.2) scale(0.7 1)" font-size="14" text-anchor="start">R3</text>
<line x1="52.3" y1="769.5" x2="90" y2="769.5"/>
<line x1="90" y1="769.5" x2="122.3" y2="779.4"/>
<polygon class="ah" points="122.3,779.4 115.23,778.59 115.99,776.11"/>
<text class="r" transform="translate(52.3 768.5) scale(0.7 1)" font-size="14" text-anchor="start">R3</text>
<line x1="163.7" y1="836.5" x2="203.8" y2="836.5"/>
<line x1="163.7" y1="836.5" x2="140.2" y2="798.1"/>
<polygon class="ah" points="140.2,798.1 144.96,803.39 142.75,804.75"/>
<text class="r" transform="translate(166.3 834.6) scale(0.7 1)" font-size="14" text-anchor="start">R3</text>
<line x1="377.2" y1="836.5" x2="414.3" y2="836.5"/>
<line x1="414.3" y1="836.5" x2="440.6" y2="796.8"/>
<polygon class="ah" points="440.6,796.8 437.82,803.35 435.65,801.92"/>
<text class="r" transform="translate(377.3 834.6) scale(0.7 1)" font-size="14" text-anchor="start">R3</text>
<line x1="481.5" y1="772.4" x2="456.6" y2="780" style="stroke-width:0.9"/>
<polygon class="ah" points="456.6,780 461.03,777.39 461.73,779.69"/>
<line x1="106.9" y1="813.5" x2="90.8" y2="840.3" style="stroke-width:0.8"/>
<text class="r" transform="translate(91.4 839) rotate(-59) scale(0.77 1)" font-size="12" text-anchor="start">3-R3</text>
<line x1="102.3" y1="854.5" x2="450.8" y2="854.5"/>
<line x1="135.5" y1="858.6" x2="143.5" y2="850.6" style="stroke-width:1.1"/>
<line x1="137.3" y1="858.6" x2="145.3" y2="850.6" style="stroke-width:1.1"/>
<line x1="436.5" y1="858.6" x2="444.5" y2="850.6" style="stroke-width:1.1"/>
<line x1="434.7" y1="858.6" x2="442.7" y2="850.6" style="stroke-width:1.1"/>
<text class="n" transform="translate(111 850.4) scale(0.93 1)" font-size="26" text-anchor="middle">3</text>
<text class="n" transform="translate(289.7 850.4) scale(0.93 1)" font-size="26" text-anchor="middle">404</text>
<path d="M438.7,854.6 L451.3,893.6 H469" style="stroke-width:0.8"/>
<text class="ab" transform="translate(460.6 889.6) scale(0.88 1)" font-size="23" text-anchor="middle">3</text>
<line x1="607.5" y1="486.5" x2="779" y2="486.5"/>
<line x1="608" y1="490.3" x2="615" y2="483.3" style="stroke-width:0.9"/>
<line x1="773" y1="490.3" x2="780" y2="483.3" style="stroke-width:0.9"/>
<line x1="607.5" y1="512.5" x2="779" y2="512.5"/>
<line x1="608" y1="515.9" x2="615" y2="508.9" style="stroke-width:0.9"/>
<line x1="674" y1="515.9" x2="681" y2="508.9" style="stroke-width:0.9"/>
<line x1="773" y1="515.9" x2="780" y2="508.9" style="stroke-width:0.9"/>
<line x1="677.5" y1="507" x2="677.5" y2="653"/>
<text class="b" transform="translate(694.5 481.4) scale(0.92 1)" font-size="18.5" text-anchor="middle">45</text>
<text class="b" transform="translate(644.5 507.2) scale(0.92 1)" font-size="18.5" text-anchor="middle">18</text>
<text class="b" transform="translate(727.3 507.2) scale(0.92 1)" font-size="18.5" text-anchor="middle">27</text>
<path d="M776.5,479.6 V580.5 A11,11 0 0 1 765.5,591.5"/>
<path d="M765.5,591.5 A11,11 0 0 1 776.5,602.5"/>
<line x1="582.2" y1="591.5" x2="826.4" y2="591.5"/>
<line x1="588.5" y1="591.5" x2="588.5" y2="653"/>
<line x1="585.1" y1="588" x2="592.1" y2="595" style="stroke-width:0.9"/>
<line x1="585.1" y1="649.5" x2="592.1" y2="656.5" style="stroke-width:0.9"/>
<line x1="582" y1="653.5" x2="606" y2="653.5"/>
<line x1="611.5" y1="653.5" x2="677.5" y2="653.5"/>
<line x1="683" y1="653.5" x2="710" y2="653.5"/>
<line x1="611.5" y1="646.5" x2="677.5" y2="646.5"/>
<line x1="683" y1="646.5" x2="710" y2="646.5"/>
<line x1="705.5" y1="640.5" x2="705.5" y2="660"/>
<line x1="702.5" y1="643.5" x2="708.5" y2="649.5" style="stroke-width:0.9"/>
<line x1="702.5" y1="650.5" x2="708.5" y2="656.5" style="stroke-width:0.9"/>
<text class="b" transform="translate(583.4 619) rotate(-90) scale(0.92 1)" font-size="18.5" text-anchor="middle">17</text>
<path d="M705.5,650 L730.5,653.5 V671.5" style="stroke-width:0.9"/>
<text class="ab" transform="translate(726 663) rotate(-90) scale(0.9 1)" font-size="17" text-anchor="middle">2</text>
<path d="M611.5,600.5 H619.5 V623.5 H611.5 Z"/>
<line x1="619.5" y1="605.5" x2="664" y2="605.5"/>
<line x1="619.5" y1="618.5" x2="664" y2="618.5"/>
<line x1="664" y1="605.7" x2="694.7" y2="611.4"/>
<line x1="664" y1="618.3" x2="694.7" y2="611.4"/>
<line x1="619.5" y1="611.5" x2="705" y2="611.5"/>
<line x1="820.5" y1="591.5" x2="820.5" y2="757.2"/>
<line x1="817.3" y1="588" x2="824.3" y2="595" style="stroke-width:0.9"/>
<line x1="817.3" y1="753.7" x2="824.3" y2="760.7" style="stroke-width:0.9"/>
<line x1="794" y1="757.5" x2="826.5" y2="757.5"/>
<text class="ab" transform="translate(815.2 674.3) rotate(-90) scale(0.8 1)" font-size="18" text-anchor="middle">45</text>
<line x1="772.2" y1="755.3" x2="802.4" y2="800.3" style="stroke-width:0.8"/>
<text class="r" transform="translate(790.5 768.9) rotate(56)" font-size="13.3" text-anchor="start">3-R3</text>
<path d="M850.5,547.5 H939.5 A9.75,9.75 0 0 1 949.13,555.75 A16.25,16.25 0 0 0 965.19,569.5 H1035.81 A16.25,16.25 0 0 0 1051.87,555.75 A9.75,9.75 0 0 1 1061.5,547.5 H1149.5 V636.5 H850.5 Z"/>
<line x1="849.5" y1="516.5" x2="1150.5" y2="516.5"/>
<line x1="850.5" y1="511" x2="850.5" y2="547.5"/>
<line x1="1149.5" y1="511" x2="1149.5" y2="547.5"/>
<line x1="847.5" y1="519.3" x2="853.5" y2="513.3" style="stroke-width:0.9"/>
<line x1="1146.5" y1="519.3" x2="1152.5" y2="513.3" style="stroke-width:0.9"/>
<line x1="849.5" y1="532.5" x2="1150.5" y2="532.5"/>
<line x1="939.5" y1="527.5" x2="939.5" y2="547.5"/>
<line x1="1061.5" y1="527.5" x2="1061.5" y2="547.5"/>
<line x1="847.5" y1="535.5" x2="853.5" y2="529.5" style="stroke-width:0.9"/>
<line x1="936.5" y1="535.5" x2="942.5" y2="529.5" style="stroke-width:0.9"/>
<line x1="1058.5" y1="535.5" x2="1064.5" y2="529.5" style="stroke-width:0.9"/>
<line x1="1146.5" y1="535.5" x2="1152.5" y2="529.5" style="stroke-width:0.9"/>
<text class="bb" transform="translate(1000.5 514.2) scale(0.88 1)" font-size="14.3" text-anchor="middle">406</text>
<text class="bb" transform="translate(1000.5 530.7) scale(0.88 1)" font-size="14.3" text-anchor="middle">165</text>
<text class="bb" transform="translate(895.3 530.7) scale(0.88 1)" font-size="14.3" text-anchor="middle">120. 5</text>
<text class="bb" transform="translate(1105.3 530.7) scale(0.88 1)" font-size="14.3" text-anchor="middle">120. 5</text>
<line x1="994.5" y1="547.5" x2="994.5" y2="571.5"/>
<line x1="946.4" y1="547.5" x2="999" y2="547.5"/>
<line x1="991.8" y1="544.5" x2="997.8" y2="550.5" style="stroke-width:0.9"/>
<line x1="991.8" y1="566.5" x2="997.8" y2="572.5" style="stroke-width:0.9"/>
<text class="bb" transform="translate(992.2 559.3) rotate(-90) scale(0.85 1)" font-size="14.3" text-anchor="middle">30</text>
<line x1="840.5" y1="545.5" x2="840.5" y2="638.5"/>
<line x1="835" y1="547.5" x2="850.5" y2="547.5"/>
<line x1="835" y1="636.5" x2="850.5" y2="636.5"/>
<line x1="837.5" y1="544.5" x2="843.5" y2="550.5" style="stroke-width:0.9"/>
<line x1="837.5" y1="633.5" x2="843.5" y2="639.5" style="stroke-width:0.9"/>
<text class="bb" transform="translate(837.6 592) rotate(-90) scale(0.88 1)" font-size="14.3" text-anchor="middle">120</text>
<line x1="944.9" y1="549.4" x2="909.7" y2="591.5" style="stroke-width:0.8"/>
<polygon class="ah" points="944.9,549.4 942.54,553.94 940.85,552.53"/>
<text class="r" transform="translate(912.8 581.5) rotate(-50) scale(0.8 1)" font-size="14.3" text-anchor="middle">R15</text>
<line x1="960.8" y1="567.4" x2="946.4" y2="598.4" style="stroke-width:0.8"/>
<polygon class="ah" points="960.8,567.4 959.69,572.4 957.7,571.47"/>
<text class="r" transform="translate(948.3 587.5) rotate(-65) scale(0.8 1)" font-size="14.3" text-anchor="middle">R25</text>
<line x1="1040.6" y1="567.4" x2="1054.7" y2="599" style="stroke-width:0.8"/>
<polygon class="ah" points="1040.6,567.4 1043.64,571.52 1041.63,572.41"/>
<text class="r" transform="translate(1051.5 588) rotate(65) scale(0.8 1)" font-size="14.3" text-anchor="middle">R25</text>
<line x1="1054.7" y1="550.3" x2="1092.3" y2="591.5" style="stroke-width:0.8"/>
<polygon class="ah" points="1054.7,550.3 1058.88,553.25 1057.26,554.73"/>
<text class="r" transform="translate(1085.3 581.6) rotate(48) scale(0.8 1)" font-size="14.3" text-anchor="middle">R15</text>
</svg>
</body></html>
